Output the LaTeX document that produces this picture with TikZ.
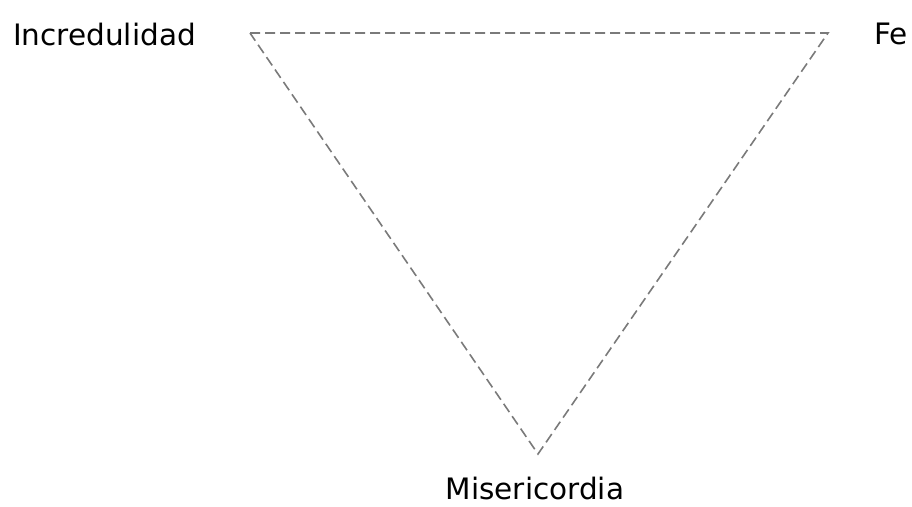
\documentclass[tikz,border=0pt]{standalone}
\usepackage{fontspec}
\setmainfont{DejaVu Sans}
\usetikzlibrary{positioning}
\definecolor{dashgray}{HTML}{7A7A7A}
\tikzset{
  corner/.style={font=\fontsize{29.5}{34}\selectfont, inner sep=0pt},
  side/.style={draw=dashgray, line width=1.6pt, dash pattern=on 10pt off 5pt}
}
\begin{document}
\begin{tikzpicture}[x=1pt,y=-1pt]
  \useasboundingbox (0,0) rectangle (912,506);
  % vertices of the triangle
  \coordinate (inc) at (250,33);
  \coordinate (fe) at (828,33);
  \coordinate (mis) at (538,454);

  \node[corner,anchor=base west] (tinc) at (13,45) {Incredulidad};
  \node[corner,anchor=base west] (tfe) at (874,44) {Fe};
  \node[corner,anchor=base] (tmis) at (535,499) {Misericordia};

  \draw[side] (inc) -- (fe) -- (mis) -- cycle;
\end{tikzpicture}
\end{document}
